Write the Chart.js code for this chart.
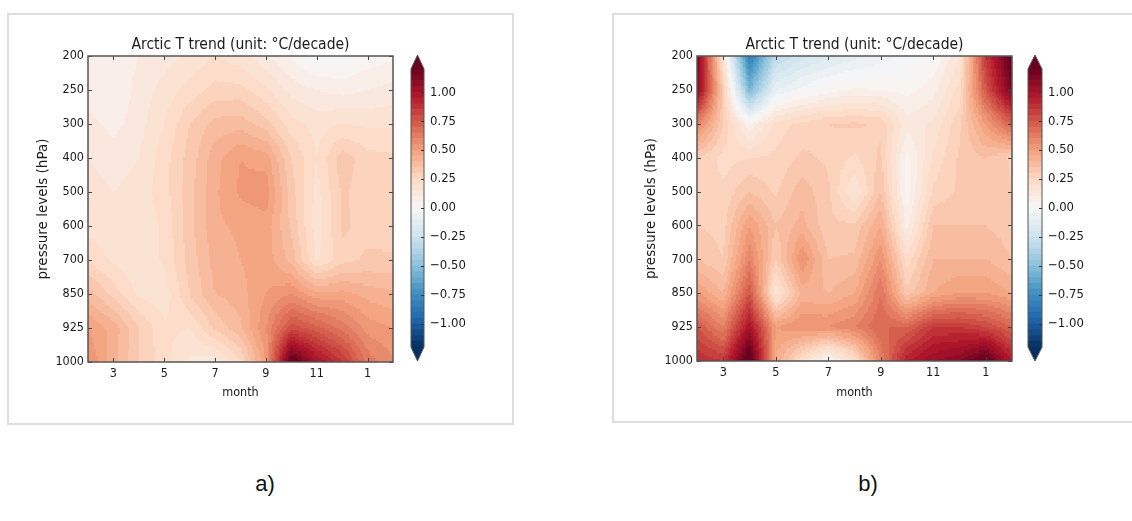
<!DOCTYPE html>
<html>
<head>
<meta charset="utf-8">
<script src="https://cdn.jsdelivr.net/npm/chart.js@4.4.1/dist/chart.umd.min.js"></script>
<style>
  body { margin: 0; background: #fff; width: 1132px; height: 521px; position: relative; overflow: hidden; }
  .frame { position: absolute; border: 2px solid #dedede; box-sizing: border-box; }
  canvas { position: absolute; }
  .tag { position: absolute; font: 22px "Liberation Sans", Arial, sans-serif; color: #111; transform: translate(-50%, -50%); }
</style>
</head>
<body>
<div class="frame" style="left:7px;top:13px;width:507px;height:412px"></div>
<div class="frame" style="left:612px;top:13px;width:540px;height:410px"></div>

<canvas id="trendA" width="472" height="400" style="left:8px;top:15px"></canvas>
<canvas id="barA" width="80" height="340" style="left:404px;top:40px"></canvas>
<canvas id="trendB" width="420" height="400" style="left:617px;top:15px"></canvas>
<canvas id="barB" width="100" height="340" style="left:1020px;top:40px"></canvas>

<div class="tag" style="left:265px;top:484px">a)</div>
<div class="tag" style="left:868px;top:484px">b)</div>

<script>
// months Feb .. Feb of the next year (13 = Jan, 14 = Feb)
const months = [2, 3, 4, 5, 6, 7, 8, 9, 10, 11, 12, 13, 14];
const monthTicks = [3, 5, 7, 9, 11, 13];
const monthTickLabels = ['3', '5', '7', '9', '11', '1'];
const pressureLevels = [200, 250, 300, 400, 500, 600, 700, 850, 925, 1000];
const colorbarTicks = [-1, -0.75, -0.5, -0.25, 0, 0.25, 0.5, 0.75, 1];

// contour levels
const vmin = -1.2, vmax = 1.2, levelStep = 0.05;

// T trend, one row per pressure level, one column per month
const trendA = [
  [0.05, 0.06, 0.10, 0.13, 0.16, 0.20, 0.17, 0.11, 0.04, -0.03, -0.02, 0.02, 0.04],
  [0.07, 0.05, 0.12, 0.17, 0.22, 0.27, 0.27, 0.21, 0.13, 0.10, 0.08, 0.10, 0.12],
  [0.12, 0.08, 0.13, 0.20, 0.30, 0.37, 0.38, 0.32, 0.22, 0.18, 0.20, 0.19, 0.19],
  [0.15, 0.13, 0.15, 0.23, 0.32, 0.43, 0.50, 0.48, 0.30, 0.20, 0.33, 0.27, 0.26],
  [0.17, 0.15, 0.17, 0.23, 0.33, 0.44, 0.51, 0.53, 0.32, 0.18, 0.31, 0.27, 0.26],
  [0.18, 0.17, 0.16, 0.21, 0.33, 0.44, 0.46, 0.48, 0.34, 0.17, 0.31, 0.28, 0.27],
  [0.24, 0.19, 0.15, 0.21, 0.32, 0.42, 0.45, 0.48, 0.38, 0.19, 0.28, 0.31, 0.31],
  [0.38, 0.28, 0.19, 0.17, 0.30, 0.40, 0.43, 0.50, 0.55, 0.46, 0.47, 0.43, 0.41],
  [0.50, 0.43, 0.30, 0.21, 0.20, 0.31, 0.39, 0.55, 0.78, 0.72, 0.63, 0.53, 0.50],
  [0.55, 0.42, 0.30, 0.22, 0.14, 0.12, 0.24, 0.50, 1.25, 1.00, 0.86, 0.63, 0.56]
];

const trendB = [
  [1.15, 0.15, -0.85, -0.32, -0.22, -0.17, -0.12, -0.08, -0.03, 0.00, 0.15, 0.85, 1.25],
  [1.10, 0.30, -0.55, -0.10, -0.03, 0.03, 0.06, 0.05, 0.03, 0.08, 0.22, 0.75, 1.15],
  [0.60, 0.30, 0.05, 0.22, 0.27, 0.30, 0.31, 0.29, 0.12, 0.16, 0.29, 0.50, 0.72],
  [0.30, 0.23, 0.25, 0.26, 0.31, 0.29, 0.24, 0.31, 0.03, 0.21, 0.31, 0.35, 0.29],
  [0.28, 0.26, 0.35, 0.29, 0.38, 0.31, 0.15, 0.35, 0.02, 0.26, 0.31, 0.35, 0.30],
  [0.30, 0.28, 0.50, 0.35, 0.42, 0.31, 0.31, 0.45, 0.08, 0.35, 0.35, 0.35, 0.32],
  [0.35, 0.30, 0.60, 0.30, 0.55, 0.35, 0.36, 0.55, 0.22, 0.40, 0.40, 0.40, 0.35],
  [0.50, 0.40, 0.75, 0.15, 0.42, 0.40, 0.45, 0.65, 0.32, 0.45, 0.50, 0.50, 0.45],
  [0.75, 0.60, 1.00, 0.50, 0.55, 0.55, 0.60, 0.70, 0.70, 0.85, 0.85, 0.80, 0.70],
  [0.90, 0.85, 1.30, 0.45, 0.20, 0.00, 0.20, 0.60, 0.95, 1.05, 1.10, 1.25, 0.95]
];

// RdBu_r
const rdbu = ['#053061', '#2166ac', '#4393c3', '#92c5de', '#d1e5f0', '#f7f7f7',
              '#fddbc7', '#f4a582', '#d6604d', '#b2182b', '#67001f'];
const rdbuRgb = rdbu.map(h => [1, 3, 5].map(k => parseInt(h.substr(k, 2), 16)));

function cmap(t) {
  t = Math.max(0, Math.min(1, t));
  const p = t * (rdbuRgb.length - 1);
  const i = Math.min(rdbuRgb.length - 2, Math.floor(p));
  const f = p - i;
  const a = rdbuRgb[i], b = rdbuRgb[i + 1];
  return 'rgb(' + [0, 1, 2].map(k => Math.round(a[k] + (b[k] - a[k]) * f)).join(',') + ')';
}

function bandColor(v) {
  if (v < vmin) return cmap(0);
  if (v >= vmax) return cmap(1);
  const k = Math.floor((v - vmin) / levelStep);
  const mid = vmin + (k + 0.5) * levelStep;
  return cmap((mid - vmin) / (vmax - vmin));
}

const textColor = '#1a1a1a';
const family = "'DejaVu Sans Condensed', 'DejaVu Sans'";
const tickFont = { family: family, size: 12.5 };
const labelFont = { family: family, size: 12.5 };

// filled contours between the grid points of dataset 0
const contourFill = {
  id: 'contourFill',
  beforeDatasetsDraw(chart) {
    const { ctx, chartArea, scales: { x, y } } = chart;
    const pts = chart.data.datasets[0].data;
    const nx = months.length, ny = pressureLevels.length;
    const val = (i, j) => pts[j * nx + i].v;
    const sub = 16;
    ctx.save();
    ctx.beginPath();
    ctx.rect(chartArea.left, chartArea.top, chartArea.width, chartArea.height);
    ctx.clip();
    for (let j = 0; j < ny - 1; j++) {
      const y0 = y.getPixelForValue(j), y1 = y.getPixelForValue(j + 1);
      for (let i = 0; i < nx - 1; i++) {
        const x0 = x.getPixelForValue(months[i]), x1 = x.getPixelForValue(months[i + 1]);
        const v00 = val(i, j), v10 = val(i + 1, j), v01 = val(i, j + 1), v11 = val(i + 1, j + 1);
        for (let a = 0; a < sub; a++) {
          const xa = Math.round(x0 + (x1 - x0) * a / sub);
          const xb = Math.round(x0 + (x1 - x0) * (a + 1) / sub);
          const u = (a + 0.5) / sub;
          for (let b = 0; b < sub; b++) {
            const ya = Math.round(y0 + (y1 - y0) * b / sub);
            const yb = Math.round(y0 + (y1 - y0) * (b + 1) / sub);
            const w = (b + 0.5) / sub;
            const v = v00 * (1 - u) * (1 - w) + v10 * u * (1 - w) + v01 * (1 - u) * w + v11 * u * w;
            ctx.fillStyle = bandColor(v);
            ctx.fillRect(xa, ya, xb - xa, yb - ya);
          }
        }
      }
    }
    ctx.restore();
  },
  afterDatasetsDraw(chart) {
    const { ctx, chartArea: ca, scales: { x, y } } = chart;
    ctx.save();
    ctx.strokeStyle = '#444';
    ctx.lineWidth = 1;
    ctx.beginPath();
    monthTicks.forEach(m => {
      const px = Math.round(x.getPixelForValue(m)) + 0.5;
      ctx.moveTo(px, ca.bottom); ctx.lineTo(px, ca.bottom - 4);
      ctx.moveTo(px, ca.top); ctx.lineTo(px, ca.top + 4);
    });
    pressureLevels.forEach((p, j) => {
      const py = Math.round(y.getPixelForValue(j)) + 0.5;
      ctx.moveTo(ca.left, py); ctx.lineTo(ca.left + 4, py);
      ctx.moveTo(ca.right, py); ctx.lineTo(ca.right - 4, py);
    });
    ctx.stroke();
    ctx.lineWidth = 1.5;
    ctx.strokeStyle = '#555';
    ctx.strokeRect(ca.left, ca.top, ca.width, ca.height);
    ctx.restore();
  }
};

function trendChart(id, grid, padRight, xHeight, yTitlePad) {
  const points = [];
  grid.forEach((row, j) => row.forEach((v, i) => points.push({ x: months[i], y: j, v: v })));
  return new Chart(document.getElementById(id), {
    type: 'scatter',
    data: { datasets: [{ data: points, pointRadius: 0, showLine: false }] },
    options: {
      responsive: false,
      animation: false,
      events: [],
      layout: { padding: { left: 0, right: padRight, top: 0, bottom: 0 } },
      plugins: {
        legend: { display: false },
        tooltip: { enabled: false },
        title: {
          display: true,
          fullSize: false,
          text: 'Arctic T trend (unit: \u00b0C/decade)',
          color: textColor,
          font: { family: family, size: 15.5, weight: 'normal', lineHeight: 1.2 },
          padding: { top: 20.7, bottom: 1.7 }
        }
      },
      scales: {
        x: {
          type: 'linear', min: 2, max: 14,
          afterBuildTicks: s => { s.ticks = monthTicks.map(v => ({ value: v })); },
          afterFit: s => { s.height = xHeight; },
          ticks: {
            callback: (v, i) => monthTickLabels[i],
            color: textColor, font: tickFont, padding: 4, maxRotation: 0, autoSkip: false
          },
          grid: { display: false, drawTicks: false },
          border: { display: false },
          title: { display: true, text: 'month', color: textColor, font: labelFont, padding: { top: 0, bottom: 14.5 } }
        },
        y: {
          type: 'linear', min: 0, max: pressureLevels.length - 1, reverse: true,
          afterBuildTicks: s => { s.ticks = pressureLevels.map((p, j) => ({ value: j })); },
          afterFit: s => { s.width = 80; },
          ticks: {
            callback: v => pressureLevels[v],
            color: textColor, font: tickFont, padding: 4, autoSkip: false
          },
          grid: { display: false, drawTicks: false },
          border: { display: false },
          title: { display: true, text: 'pressure levels (hPa)', color: textColor, font: { family: 'DejaVu Sans', size: 13.5 }, padding: { top: yTitlePad, bottom: 0 } }
        }
      }
    },
    plugins: [contourFill]
  });
}

// colorbar: one floating bar per contour band, triangles for the extensions
const bands = [];
for (let k = 0; vmin + k * levelStep < vmax - 1e-9; k++) {
  const lo = +(vmin + k * levelStep).toFixed(2);
  bands.push([lo, +(lo + levelStep).toFixed(2)]);
}

const colorbarFrame = {
  id: 'colorbarFrame',
  afterDatasetsDraw(chart) {
    const { ctx, chartArea: ca, scales: { y } } = chart;
    const ext = 14, cx = (ca.left + ca.right) / 2;
    ctx.save();
    ctx.fillStyle = cmap(1);
    ctx.beginPath();
    ctx.moveTo(ca.left, ca.top); ctx.lineTo(cx, ca.top - ext); ctx.lineTo(ca.right, ca.top); ctx.closePath();
    ctx.fill();
    ctx.fillStyle = cmap(0);
    ctx.beginPath();
    ctx.moveTo(ca.left, ca.bottom); ctx.lineTo(cx, ca.bottom + ext); ctx.lineTo(ca.right, ca.bottom); ctx.closePath();
    ctx.fill();
    ctx.strokeStyle = '#555';
    ctx.lineWidth = 1;
    ctx.beginPath();
    ctx.moveTo(ca.left, ca.top); ctx.lineTo(cx, ca.top - ext); ctx.lineTo(ca.right, ca.top);
    ctx.lineTo(ca.right, ca.bottom); ctx.lineTo(cx, ca.bottom + ext); ctx.lineTo(ca.left, ca.bottom);
    ctx.closePath();
    ctx.stroke();
    ctx.beginPath();
    colorbarTicks.forEach(v => {
      const py = Math.round(y.getPixelForValue(v)) + 0.5;
      ctx.moveTo(ca.right, py); ctx.lineTo(ca.right - 3, py);
    });
    ctx.strokeStyle = '#333';
    ctx.stroke();
    ctx.restore();
  }
};

function colorbar(id, padLeft, axisWidth) {
  return new Chart(document.getElementById(id), {
    type: 'bar',
    data: {
      labels: [''],
      datasets: bands.map(b => ({
        data: [b],
        backgroundColor: bandColor((b[0] + b[1]) / 2),
        borderWidth: 0,
        grouped: false,
        barPercentage: 1,
        categoryPercentage: 1
      }))
    },
    options: {
      responsive: false,
      animation: false,
      events: [],
      layout: { padding: { left: padLeft, right: 0, top: 29, bottom: 33 } },
      plugins: { legend: { display: false }, tooltip: { enabled: false } },
      scales: {
        x: { display: false },
        y: {
          position: 'right', min: vmin, max: vmax,
          afterBuildTicks: s => { s.ticks = colorbarTicks.map(v => ({ value: v })); },
          afterFit: s => { s.width = axisWidth; },
          ticks: {
            callback: v => (v < 0 ? '\u2212' : '') + Math.abs(v).toFixed(2),
            color: textColor, font: { family: family, size: 13 }, padding: 6
          },
          grid: { display: false, drawTicks: false },
          border: { display: false }
        }
      }
    },
    plugins: [colorbarFrame]
  });
}

trendChart('trendA', trendA, 87, 53, 27);
colorbar('barA', 7, 60);
trendChart('trendB', trendB, 25, 54, 26);
colorbar('barB', 8, 78);
</script>
</body>
</html>
